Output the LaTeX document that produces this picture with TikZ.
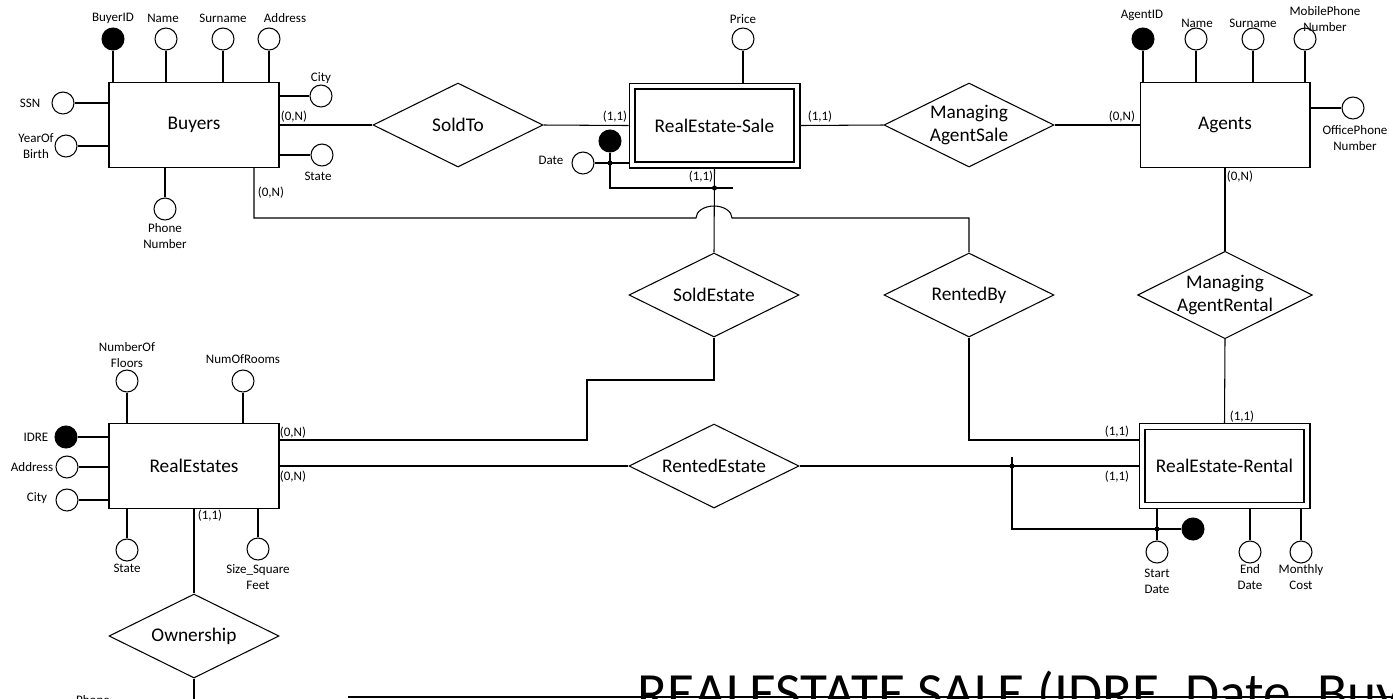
\documentclass[tikz,border=0pt]{standalone}
\usepackage{fontspec}
\setmainfont{Carlito}
\usetikzlibrary{shapes.geometric}
\tikzset{
    every node/.style={align=center,},
    entity/.style={draw,rectangle,minimum width=3.4cm,minimum height=1.7cm,inner sep=0pt,font=\fontsize{11}{13}\selectfont,},
    weakentity/.style={draw,rectangle,double,double distance=2.8pt,minimum width=3.3cm,minimum height=1.58cm,inner sep=0pt,outer sep=2pt,font=\fontsize{11}{13}\selectfont,},
    relation/.style={draw,diamond,aspect=2,minimum width=3.4cm,minimum height=1.68cm,inner sep=0pt,font=\fontsize{11}{13}\selectfont,},
    attr/.style={draw,circle,minimum size=0.44cm,inner sep=0pt,},
    keyattr/.style={attr,fill=black,},
    junction/.style={circle,fill=black,minimum size=0.1cm,inner sep=0pt,},
    lbl/.style={font=\fontsize{7.4}{9}\selectfont,inner sep=0pt,},
}

\begin{document}
\begin{tikzpicture}[x=0.02cm,y=-0.02cm,line width=0.6pt]
    \useasboundingbox (0,0) rectangle (1393,698);
    \clip (0,0) rectangle (1393,698);

    % entities and relationships
    \node[entity] (buyers) at (194,125) {Buyers};
    \node[weakentity] (sale) at (714.5,125.5) {RealEstate-Sale};
    \node[entity] (agents) at (1225,125) {Agents};
    \node[entity] (estates) at (194,466) {RealEstates};
    \node[weakentity] (rental) at (1224.5,466) {RealEstate-Rental};

    \node[relation] (soldto) at (458,125) {SoldTo};
    \node[relation] (mgrsale) at (969,125) {Managing\\AgentSale};
    \node[relation] (soldestate) at (714,295) {SoldEstate};
    \node[relation] (rentedby) at (969,295) {RentedBy};
    \node[relation] (mgrrental) at (1225,295) {Managing\\AgentRental};
    \node[relation] (rentedestate) at (714,466) {RentedEstate};
    \node[relation] (ownership) at (194,636) {Ownership};

    % Buyers attributes
    \node[keyattr] (buyerid) at (113,39) {};
    \node[attr] (bname) at (166,39) {};
    \node[attr] (bsurname) at (223,39) {};
    \node[attr] (baddress) at (269,39) {};
    \node[attr] (bcity) at (321,96) {};
    \node[attr] (bstate) at (322,155) {};
    \node[attr] (bssn) at (63,103) {};
    \node[attr] (byear) at (66,146) {};
    \node[attr] (bphone) at (165,209) {};

    \node[lbl] (buyerid_l) at (113,18) {BuyerID};
    \node[lbl] (bname_l) at (163,18) {Name};
    \node[lbl] (bsurname_l) at (223,18) {Surname};
    \node[lbl] (baddress_l) at (285,18) {Address};
    \node[lbl] (bcity_l) at (321,78) {City};
    \node[lbl] (bstate_l) at (318,176) {State};
    \node[lbl] (bssn_l) at (30,103) {SSN};
    \node[lbl] (byear_l) at (36,146) {YearOf\\Birth};
    \node[lbl] (bphone_l) at (165,236) {Phone\\Number};

    \draw (buyerid) -- (buyerid |- buyers.north);
    \draw (bname) -- (bname |- buyers.north);
    \draw (bsurname) -- (bsurname |- buyers.north);
    \draw (baddress) -- (baddress |- buyers.north);
    \draw (bcity) -- (bcity -| buyers.east);
    \draw (bstate) -- (bstate -| buyers.east);
    \draw (bssn) -- (bssn -| buyers.west);
    \draw (byear) -- (byear -| buyers.west);
    \draw (bphone) -- (bphone |- buyers.south);

    % RealEstate-Sale attributes
    \node[attr] (price) at (743,39) {};
    \node[lbl] (price_l) at (743,19) {Price};
    \node[keyattr] (salekey) at (610,141) {};
    \node[attr] (saledate) at (583,163) {};
    \node[lbl] (saledate_l) at (551,160) {Date};
    \node[junction] (j1) at (610,163) {};
    \node[junction] (j2) at (714.5,188) {};
    \coordinate (saletick) at (733,188);

    \draw (price) -- (price |- sale.north);
    \draw (saledate) -- (saledate -| sale.west);
    \draw (salekey) |- (saletick);

    % Agents attributes
    \node[keyattr] (agentid) at (1143,39) {};
    \node[attr] (aname) at (1196,39) {};
    \node[attr] (asurname) at (1253,39) {};
    \node[attr] (amobile) at (1305,39) {};
    \node[attr] (aoffice) at (1353,108) {};

    \node[lbl] (agentid_l) at (1142,15) {AgentID};
    \node[lbl] (aname_l) at (1197,23) {Name};
    \node[lbl] (asurname_l) at (1253,23) {Surname};
    \node[lbl] (amobile_l) at (1325,19) {MobilePhone\\Number};
    \node[lbl] (aoffice_l) at (1355,138) {OfficePhone\\Number};

    \draw (agentid) -- (agentid |- agents.north);
    \draw (aname) -- (aname |- agents.north);
    \draw (asurname) -- (asurname |- agents.north);
    \draw (amobile) -- (amobile |- agents.north);
    \draw (aoffice) -- (aoffice -| agents.east);

    % RealEstates attributes
    \node[attr] (floors) at (127,381) {};
    \node[attr] (rooms) at (243,381) {};
    \node[keyattr] (idre) at (66,437) {};
    \node[attr] (eaddress) at (67,467) {};
    \node[attr] (ecity) at (67,500) {};
    \node[attr] (estate) at (127,550) {};
    \node[attr] (size) at (258,549) {};

    \node[lbl] (floors_l) at (127,355) {NumberOf\\Floors};
    \node[lbl] (rooms_l) at (243,359) {NumOfRooms};
    \node[lbl] (idre_l) at (36,437) {IDRE};
    \node[lbl] (eaddress_l) at (32,467) {Address};
    \node[lbl] (ecity_l) at (37,498) {City};
    \node[lbl] (estate_l) at (127,568) {State};
    \node[lbl] (size_l) at (258,577) {Size\_Square\\Feet};

    \draw (floors) -- (floors |- estates.north);
    \draw (rooms) -- (rooms |- estates.north);
    \draw (idre) -- (idre -| estates.west);
    \draw (eaddress) -- (eaddress -| estates.west);
    \draw (ecity) -- (ecity -| estates.west);
    \draw (estate) -- (estate |- estates.south);
    \draw (size) -- (size |- estates.south);

    % RealEstate-Rental attributes
    \node[keyattr] (rentkey) at (1193,529) {};
    \node[attr] (startdate) at (1157,552) {};
    \node[attr] (enddate) at (1250,552) {};
    \node[attr] (cost) at (1301,552) {};
    \node[junction] (j3) at (1012,466) {};
    \node[junction] (j4) at (1157,529) {};
    \coordinate (renttick) at (1012,457);

    \node[lbl] (startdate_l) at (1157,581) {Start\\Date};
    \node[lbl] (enddate_l) at (1250,577) {End\\Date};
    \node[lbl] (cost_l) at (1301,577) {Monthly\\Cost};

    \draw (startdate) -- (startdate |- rental.south);
    \draw (enddate) -- (enddate |- rental.south);
    \draw (cost) -- (cost |- rental.south);
    \draw (renttick) |- (rentkey);

    % relationship links
    \coordinate (hopl) at (696,218);
    \coordinate (sebend) at (587,380);
    \coordinate (ownend) at (194,720);

    \draw (buyers.east) -- (soldto.west);
    \draw (soldto.east) -- (sale.west);
    \draw (sale.east) -- (mgrsale.west);
    \draw (mgrsale.east) -- (agents.west);
    \draw (agents.south) -- (mgrrental.north);
    \draw (mgrrental.south) -- (rental.north);
    \draw (sale.south) -- (soldestate.north);
    \draw ([xshift=1.2cm]buyers.south) |- (hopl)
        arc[start angle=180,end angle=0,x radius=0.36cm,y radius=0.24cm] -| (rentedby.north);
    \draw (soldestate.south) |- (sebend) |- ([yshift=0.52cm]estates.east);
    \draw (estates.east) -- (rentedestate.west);
    \draw (rentedestate.east) -- (rental.west);
    \draw (rentedby.south) |- ([yshift=0.52cm]rental.west);
    \draw (estates.south) -- (ownership.north);
    \draw (ownership.south) -- (ownend);

    % cardinalities
    \node[lbl] (c_bsold) at (294,117) {(0,N)};
    \node[lbl] (c_bsoldestate) at (271,193) {(0,N)};
    \node[lbl] (c_sale1) at (615,117) {(1,1)};
    \node[lbl] (c_sale2) at (701,177) {(1,1)};
    \node[lbl] (c_sale3) at (820,117) {(1,1)};
    \node[lbl] (c_agsale) at (1122,117) {(0,N)};
    \node[lbl] (c_agrent) at (1240,177) {(0,N)};
    \node[lbl] (c_est1) at (293,433) {(0,N)};
    \node[lbl] (c_est2) at (293,477) {(0,N)};
    \node[lbl] (c_est3) at (210,516) {(1,1)};
    \node[lbl] (c_rent1) at (1117,432) {(1,1)};
    \node[lbl] (c_rent2) at (1117,477) {(1,1)};
    \node[lbl] (c_rent3) at (1242,417) {(1,1)};

    % cut-off text at the bottom
    \coordinate (ulstart) at (348,697);
    \coordinate (ulend) at (1393,697);
    \draw[line width=1.2pt] (ulstart) -- (ulend);
    \node[anchor=base west,inner sep=0pt,font=\fontsize{31.5}{36}\selectfont] (salescheme) at (637,711) {REALESTATE SALE (IDRE, Date, Buyer};
    \node[lbl,anchor=base] (phonecut) at (93,704) {Phone};
\end{tikzpicture}
\end{document}
